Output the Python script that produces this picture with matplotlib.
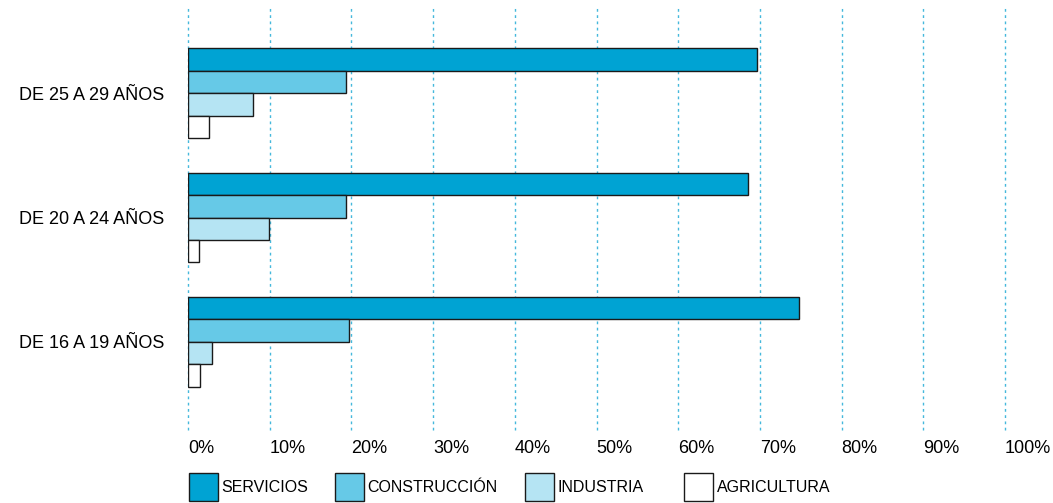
import matplotlib
matplotlib.use("Agg")
import matplotlib.pyplot as plt
from matplotlib.patches import Patch
import numpy as np

plt.rcParams['font.family'] = ['Liberation Sans', 'DejaVu Sans']

groups = ["DE 16 A 19 AÑOS", "DE 20 A 24 AÑOS", "DE 25 A 29 AÑOS"]
series_names = ["SERVICIOS", "CONSTRUCCIÓN", "INDUSTRIA", "AGRICULTURA"]
servicios = [74.8, 68.6, 69.6]
construccion = [19.7, 19.4, 19.4]
industria = [2.9, 9.9, 8.0]
agricultura = [1.5, 1.4, 2.6]
xticks = [0, 10, 20, 30, 40, 50, 60, 70, 80, 90, 100]
xticklabels = ["0%", "10%", "20%", "30%", "40%", "50%", "60%", "70%", "80%", "90%", "100%"]

colors = ["#00A3D3", "#66C9E7", "#B5E4F3", "#FFFFFF"]
values = [servicios, construccion, industria, agricultura]

fig = plt.figure(figsize=(10.53, 5.03), dpi=100)
ax = fig.add_axes([188/1053, 1-430/503, (1005-188)/1053, (430-5)/503])

y = np.arange(len(groups))
h = 0.181
offsets = [1.5*h, 0.5*h, -0.5*h, -1.5*h]
for vals, c, off, name in zip(values, colors, offsets, series_names):
    ax.barh(y + off, vals, height=h, color=c, edgecolor="#1a1a1a", linewidth=1.0,
            zorder=3, label=name)

ax.set_xlim(0, 100)
ax.set_ylim(-0.71, 2.71)
ax.set_yticks(y)
ax.set_yticklabels(groups, fontsize=13)
ax.set_xticks(xticks)
ax.set_xticklabels(xticklabels, fontsize=13, ha='left')
ax.tick_params(axis='both', length=0)
ax.tick_params(axis='y', pad=17)
ax.tick_params(axis='x', pad=7)
for s in ax.spines.values():
    s.set_visible(False)
ax.grid(axis='x', color="#45B8DC", linestyle=(0, (2, 2.5)), linewidth=1.0, zorder=0)
ax.grid(axis='y', visible=False)
ax.set_axisbelow(True)
for gl in ax.get_xgridlines():
    gl.set_clip_on(False)

legend_x = [189, 335, 525, 684]
for c, name, lx in zip(colors, series_names, legend_x):
    handle = Patch(facecolor=c, edgecolor="#1a1a1a", linewidth=1.0)
    fig.legend([handle], [name], loc='center left', bbox_to_anchor=(lx/1053, 1-487/503),
               frameon=False, fontsize=11.5, handlelength=1.8, handleheight=2.3,
               handletextpad=0.25, borderaxespad=0, borderpad=0)

fig.savefig("out.png", dpi=100)
